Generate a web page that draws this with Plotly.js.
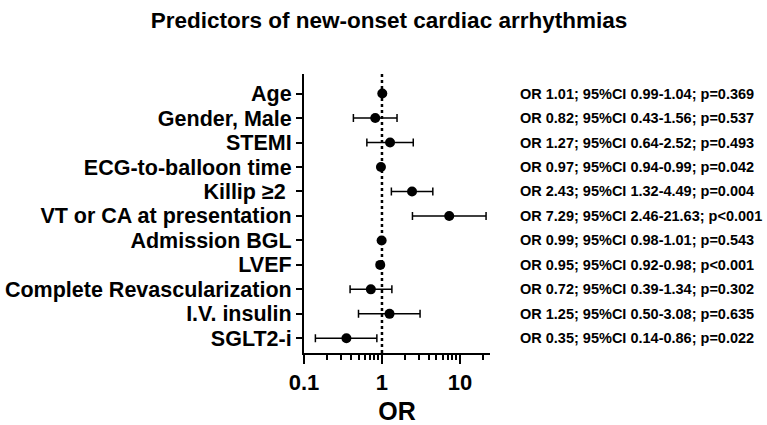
<!DOCTYPE html>
<html>
<head>
<meta charset="utf-8">
<script src="https://cdn.plot.ly/plotly-3.0.1.min.js"></script>
<style>html,body{margin:0;padding:0;background:#fff}#chart{width:767px;height:425px}</style>
</head>
<body>
<div id="chart"></div>
<script>
const predictors = ["Age","Gender, Male","STEMI","ECG-to-balloon time","Killip ≥2 ","VT or CA at presentation","Admission BGL","LVEF","Complete Revascularization","I.V. insulin","SGLT2-i"];
const oddsRatio = [1.01,0.82,1.27,0.97,2.43,7.29,0.99,0.95,0.72,1.25,0.35];
const ciLow = [0.99,0.43,0.64,0.94,1.32,2.46,0.98,0.92,0.39,0.50,0.14];
const ciHigh = [1.04,1.56,2.52,0.99,4.49,21.63,1.01,0.98,1.34,3.08,0.86];
const pText = ["p=0.369","p=0.537","p=0.493","p=0.042","p=0.004","p<0.001","p=0.543","p<0.001","p=0.302","p=0.635","p=0.022"];
const xTickVals = [0.1,1,10];
const xTickText = ["0.1","1","10"];
const xMinorTickVals = [0.2,0.3,0.4,0.5,0.6,0.7,0.8,0.9,2,3,4,5,6,7,8,9,20];

const FONT = "Liberation Sans, Arial, Helvetica, sans-serif";

const trace = {
  type: "scatter",
  mode: "markers",
  x: oddsRatio,
  y: predictors,
  marker: {color: "#000", size: 10},
  error_x: {
    type: "data", symmetric: false,
    array: oddsRatio.map((v,i)=>ciHigh[i]-v),
    arrayminus: oddsRatio.map((v,i)=>v-ciLow[i]),
    color: "#000", thickness: 1.5, width: 4
  },
  hoverinfo: "x+y",
  showlegend: false
};

const annotations = predictors.map((p,i)=>({
  xref: "paper", yref: "y", x: 1.15, y: p, xanchor: "left", yanchor: "middle",
  text: "OR " + oddsRatio[i].toFixed(2) + "; 95%CI " + ciLow[i].toFixed(2) + "-" + ciHigh[i].toFixed(2) + "; " + pText[i],
  showarrow: false,
  font: {family: FONT, size: 14.5, color: "#000", weight: "bold"}
}));

const layout = {
  width: 767, height: 425,
  margin: {l: 304, r: 277, t: 74, b: 72},
  paper_bgcolor: "#fff", plot_bgcolor: "#fff",
  title: {text: "<b>Predictors of new-onset cardiac arrhythmias</b>", x: 389/767, xanchor: "center", y: 1 - 20/425, yanchor: "middle",
          font: {family: FONT, size: 22.5, color: "#000"}},
  xaxis: {
    type: "log", range: [-1, Math.log10(24.3)],
    tickmode: "array", tickvals: xTickVals, ticktext: xTickText,
    ticks: "outside", ticklen: 9, tickwidth: 2, tickcolor: "#000",
    showline: true, linewidth: 2, linecolor: "#000",
    showgrid: false, zeroline: false,
    tickfont: {family: FONT, size: 22, color: "#000", weight: "bold"},
    minor: {tickmode: "array", tickvals: xMinorTickVals, ticks: "outside", ticklen: 5, tickwidth: 2, tickcolor: "#000", showgrid: false},
    title: {text: "<b>OR</b>", font: {family: FONT, size: 25, color: "#000"}, standoff: 8}
  },
  yaxis: {
    type: "category", range: [10.6, -0.8],
    tickmode: "array", tickvals: predictors, ticktext: predictors,
    ticks: "outside", ticklen: 6, tickwidth: 2, tickcolor: "#000",
    showline: true, linewidth: 2, linecolor: "#000",
    showgrid: false, zeroline: false,
    tickfont: {family: FONT, size: 21.5, color: "#000", weight: "bold"}
  },
  shapes: [{type: "line", xref: "x", yref: "paper", x0: 1, x1: 1, y0: 0, y1: 1,
            line: {color: "#000", width: 2.5, dash: "dot"}, layer: "below"}],
  annotations: annotations
};

Plotly.newPlot("chart", [trace], layout, {displayModeBar: false, staticPlot: true});
</script>
</body>
</html>
